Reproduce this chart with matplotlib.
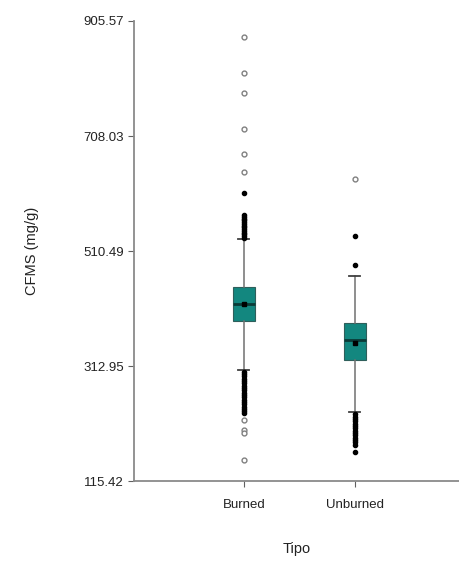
import matplotlib
matplotlib.use('AGG')
import matplotlib.pyplot as plt

plt.rcParams['font.family'] = ['Liberation Sans', 'DejaVu Sans']

categories = ['Burned', 'Unburned']
q1 = [390.3, 323.3]
medians = [419.5, 357.6]
q3 = [448.7, 386.3]
whisker_lo = [306.1, 233.5]
whisker_hi = [531.1, 468.1]
means = [420.0, 352.0]

# moderate outliers (filled) and far outliers (open)
near_outliers = [
    [533, 536, 539, 542, 545, 548, 551, 554, 557, 560, 563, 566, 569, 572, 610,
     303, 299, 295, 291, 287, 283, 279, 275, 271, 267, 263, 259, 255, 251, 247,
     243, 239, 235, 232],
    [537, 486,
     230, 226, 222, 218, 214, 210, 206, 202, 198, 194, 190, 186, 182, 178, 165],
]
far_outliers = [
    [877.6, 816.8, 782.4, 719.5, 676.6, 646.7, 220.2, 203.0, 197.9, 151.5],
    [634.2],
]

yticks = [115.42, 312.95, 510.49, 708.03, 905.57]

fig = plt.figure(figsize=(4.6, 5.63), dpi=100)
ax = fig.add_axes([0.2913, 0.1456, 0.7087, 0.8171])

stats = []
for i, name in enumerate(categories):
    stats.append(dict(label=name, med=medians[i], q1=q1[i], q3=q3[i],
                      whislo=whisker_lo[i], whishi=whisker_hi[i],
                      mean=means[i], fliers=[]))

pos = [1, 2]
ax.bxp(stats, positions=pos, widths=0.2, patch_artist=True,
       showmeans=True, showfliers=False,
       boxprops=dict(facecolor='#13877f', edgecolor='#2f5f5b', linewidth=0.8),
       medianprops=dict(color='#0b3a37', linewidth=2),
       whiskerprops=dict(color='#707070', linewidth=1.1),
       capprops=dict(color='#404040', linewidth=1.3),
       meanprops=dict(marker='s', markerfacecolor='black', markeredgecolor='black',
                      markersize=3))

for p, vals in zip(pos, near_outliers):
    ax.plot([p] * len(vals), vals, 'o', color='black', markersize=3,
            linestyle='none')
for p, vals in zip(pos, far_outliers):
    ax.plot([p] * len(vals), vals, 'o', markerfacecolor='white',
            markeredgecolor='#808080', markeredgewidth=1, markersize=3.5,
            linestyle='none')

ax.set_xlim(0.01, 2.95)
ax.set_ylim(115.42, 905.57)
ax.set_yticks(yticks)
ax.set_yticklabels(['%.2f' % v for v in yticks])
ax.set_xticks(pos)
ax.set_xticklabels(categories)

for side in ['top', 'right']:
    ax.spines[side].set_visible(False)
for side in ['left', 'bottom']:
    ax.spines[side].set_color('#8a8a8a')
    ax.spines[side].set_linewidth(1.3)
ax.tick_params(axis='both', colors='#606060', length=4, width=0.8,
               labelsize=9.5, labelcolor='#222222')
ax.tick_params(axis='x', pad=9)

ax.set_ylabel('CFMS (mg/g)', fontsize=10.5, color='#222222', labelpad=32)
ax.set_xlabel('Tipo', fontsize=10.5, color='#222222', labelpad=22)

plt.savefig('out.png', dpi=100)
